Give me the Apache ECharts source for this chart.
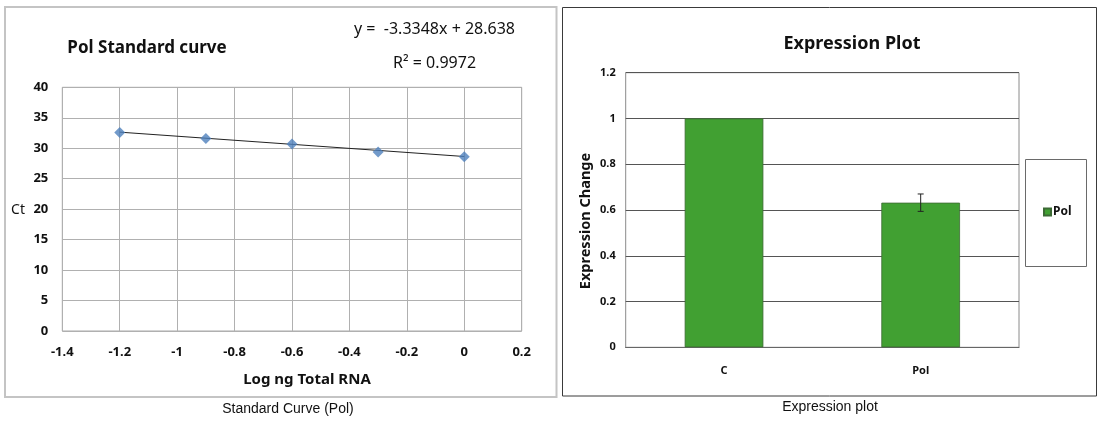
<!DOCTYPE html>
<html>
<head>
<meta charset="utf-8">
<script src="https://cdn.jsdelivr.net/npm/echarts@6/dist/echarts.min.js"></script>
<style>
html,body{margin:0;padding:0;background:#fff;}
#c{width:1100px;height:421px;}
</style>
</head>
<body>
<div id="c"></div>
<script>
// ---- Left chart: standard curve ----
const logRNA = [-1.2, -0.9, -0.6, -0.3, 0];
const ctValues = [32.6, 31.6, 30.7, 29.4, 28.6];
const trendLine = [[-1.2, 32.64], [0, 28.64]];
const equationText = 'y =  -3.3348x + 28.638';
const r2Text = 'R² = 0.9972';

// ---- Right chart: expression plot ----
const categories = ['C', 'Pol'];
const expression = [1.0, 0.632];
const expressionErr = [0, 0.038];

const FONT = 'Noto Sans';
const chart = echarts.init(document.getElementById('c'), null, {renderer: 'canvas'});

const scatterData = logRNA.map((x, i) => [x, ctValues[i]]);
const errData = categories.map((c, i) => [i, expression[i], expressionErr[i]]);

const option = {
  backgroundColor: '#fff',
  animation: false,
  textStyle: {fontFamily: FONT},
  grid: [
    {left: 62.3, top: 87.3, width: 459.4, height: 243.7, show: true, borderColor: '#a8a8a8', borderWidth: 1, backgroundColor: '#fff'},
    {left: 625.7, top: 72.7, width: 393.3, height: 274.6, show: true, borderColor: '#8a8a8a', borderWidth: 1, backgroundColor: '#fff'}
  ],
  xAxis: [
    {gridIndex: 0, type: 'value', min: -1.4, max: 0.2, interval: 0.2,
     axisLine: {show: false}, axisTick: {show: false},
     splitLine: {show: true, lineStyle: {color: '#b0b0b0', width: 1}},
     axisLabel: {margin: 15, color: '#111', fontWeight: 'bold', fontSize: 13, fontFamily: FONT}},
    {gridIndex: 1, type: 'category', data: categories,
     axisLine: {show: true, lineStyle: {color: '#666'}}, axisTick: {show: false},
     axisLabel: {margin: 18, color: '#111', fontWeight: 'bold', fontSize: 11, fontFamily: FONT}}
  ],
  yAxis: [
    {gridIndex: 0, type: 'value', min: 0, max: 40, interval: 5,
     axisLine: {show: false}, axisTick: {show: false},
     splitLine: {show: true, lineStyle: {color: '#b0b0b0', width: 1}},
     axisLabel: {margin: 14, color: '#111', fontWeight: 'bold', fontSize: 13, fontFamily: FONT}},
    {gridIndex: 1, type: 'value', min: 0, max: 1.2, interval: 0.2,
     axisLine: {show: false}, axisTick: {show: false},
     splitLine: {show: true, lineStyle: {color: '#555', width: 1}},
     axisLabel: {margin: 10, color: '#111', fontWeight: 'bold', fontSize: 11, fontFamily: FONT}}
  ],
  legend: {
    data: ['Pol'], left: 1043, top: 206, padding: 0, itemGap: 4,
    icon: 'rect', itemWidth: 7, itemHeight: 7,
    textStyle: {fontFamily: FONT, fontWeight: 'bold', fontSize: 12, color: '#111', padding: [0, 0, 0, -3]}
  },
  series: [
    {name: 'Trend', type: 'line', xAxisIndex: 0, yAxisIndex: 0, data: trendLine,
     symbol: 'none', lineStyle: {color: '#222', width: 1}, z: 2, silent: true},
    {name: 'Ct', type: 'scatter', xAxisIndex: 0, yAxisIndex: 0, data: scatterData,
     symbol: 'diamond', symbolSize: 11, itemStyle: {color: '#4F81BD'}, z: 3},
    {name: 'Pol', type: 'bar', xAxisIndex: 1, yAxisIndex: 1, data: expression,
     barWidth: '40%', itemStyle: {color: '#41A032', borderColor: '#3c6a34', borderWidth: 0.8}},
    {name: 'err', type: 'custom', xAxisIndex: 1, yAxisIndex: 1, data: errData, z: 5,
     renderItem: function (params, api) {
       const e = api.value(2);
       if (!e) return null;
       const idx = api.value(0), m = api.value(1);
       const top = api.coord([idx, m + e]);
       const bot = api.coord([idx, m - e]);
       const w = 3;
       const st = {stroke: '#222', lineWidth: 1};
       return {type: 'group', children: [
         {type: 'line', shape: {x1: top[0], y1: top[1], x2: bot[0], y2: bot[1]}, style: st},
         {type: 'line', shape: {x1: top[0] - w, y1: top[1], x2: top[0] + w, y2: top[1]}, style: st},
         {type: 'line', shape: {x1: bot[0] - w, y1: bot[1], x2: bot[0] + w, y2: bot[1]}, style: st}
       ]};
     }}
  ],
  graphic: [
    // panel frames
    {type: 'rect', shape: {x: 5, y: 7, width: 551.5, height: 390}, style: {fill: 'none', stroke: '#c4c4c4', lineWidth: 2}, z: -10},
    {type: 'rect', shape: {x: 562.5, y: 7.5, width: 534, height: 388.5}, style: {fill: 'none', stroke: '#3a3a3a', lineWidth: 1}, z: -10},
    // legend frame
    {type: 'rect', shape: {x: 1025.5, y: 159.5, width: 61, height: 107}, style: {fill: '#fff', stroke: '#6a6a6a', lineWidth: 1}, z: -5},
    // left texts
    {type: 'text', x: 147, y: 48, style: {text: 'Pol Standard curve', font: 'bold 17px ' + FONT, fill: '#111', textAlign: 'center', textVerticalAlign: 'middle'}},
    {type: 'text', x: 434.5, y: 29, style: {text: equationText, font: '16px ' + FONT, fill: '#111', textAlign: 'center', textVerticalAlign: 'middle'}},
    {type: 'text', x: 434.5, y: 63, style: {text: r2Text, font: '16px ' + FONT, fill: '#111', textAlign: 'center', textVerticalAlign: 'middle'}},
    {type: 'text', x: 25, y: 210, style: {text: 'Ct', font: '14px ' + FONT, fill: '#111', textAlign: 'right', textVerticalAlign: 'middle'}},
    {type: 'text', x: 307, y: 380, style: {text: 'Log ng Total RNA', font: 'bold 15px ' + FONT, fill: '#111', textAlign: 'center', textVerticalAlign: 'middle'}},
    {type: 'text', x: 288, y: 409, style: {text: 'Standard Curve (Pol)', font: '14px "Liberation Sans"', fill: '#111', textAlign: 'center', textVerticalAlign: 'middle'}},
    // right texts
    {type: 'text', x: 852, y: 44, style: {text: 'Expression Plot', font: 'bold 18px ' + FONT, fill: '#111', textAlign: 'center', textVerticalAlign: 'middle'}},
    {type: 'text', x: 585.5, y: 221, rotation: Math.PI / 2, style: {text: 'Expression Change', font: 'bold 14.5px ' + FONT, fill: '#111', textAlign: 'center', textVerticalAlign: 'middle'}},
    {type: 'text', x: 830, y: 407, style: {text: 'Expression plot', font: '14px "Liberation Sans"', fill: '#111', textAlign: 'center', textVerticalAlign: 'middle'}}
  ]
};
chart.setOption(option);
</script>
</body>
</html>
